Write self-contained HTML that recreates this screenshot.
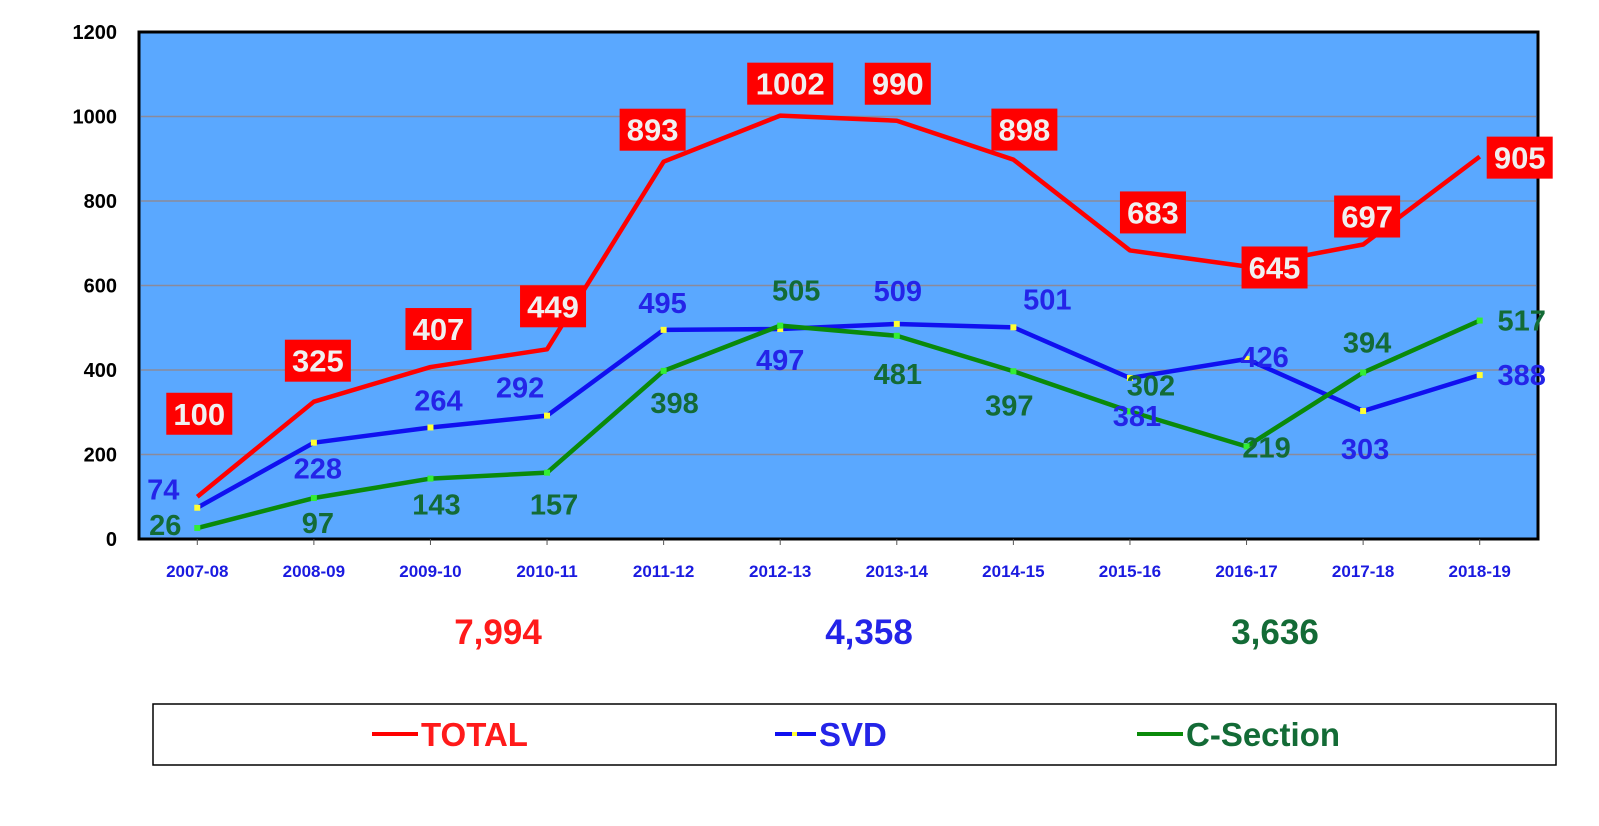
<!DOCTYPE html>
<html><head><meta charset="utf-8"><style>
html,body{margin:0;padding:0;background:#fff;}
svg{display:block;font-family:"Liberation Sans",Arial,sans-serif;font-weight:bold;}
</style></head><body>
<svg id="chart" width="1599" height="826" viewBox="0 0 1599 826">
<rect x="139" y="32" width="1399" height="507" fill="#5aa8ff" stroke="#000" stroke-width="3"/>
<g id="grid"></g><g id="axes"></g><g id="series"></g><g id="labels"></g>
<g font-size="35">
<text x="498" y="644" text-anchor="middle" fill="#ff1a1a">7,994</text>
<text x="869" y="644" text-anchor="middle" fill="#2424e8">4,358</text>
<text x="1275" y="644" text-anchor="middle" fill="#136b36">3,636</text>
</g>
<g>
<rect x="153" y="704" width="1403" height="61" fill="#fff" stroke="#000" stroke-width="1.5"/>
<g><line x1="372" y1="734" x2="418" y2="734" stroke="#ff0000" stroke-width="4"/><text x="421" y="746" font-size="33" fill="#ff1a1a">TOTAL</text></g>
<g><line x1="775" y1="734" x2="816" y2="734" stroke="#1010f0" stroke-width="4"/><rect x="792" y="732" width="5" height="4" fill="#ffff33"/><text x="819" y="746" font-size="33" fill="#2424e8">SVD</text></g>
<g><line x1="1137" y1="734" x2="1183" y2="734" stroke="#0a8a0a" stroke-width="4"/><text x="1186" y="746" font-size="33" fill="#136b36">C-Section</text></g>
</g>
</svg>
<script>
const categories=["2007-08","2008-09","2009-10","2010-11","2011-12","2012-13","2013-14","2014-15","2015-16","2016-17","2017-18","2018-19"];
const totalValues=[100,325,407,449,893,1002,990,898,683,645,697,905];
const svdValues=[74,228,264,292,495,497,509,501,381,426,303,388];
const csectionValues=[26,97,143,157,398,505,481,397,302,219,394,517];
const yTicks=[0,200,400,600,800,1000,1200];
const totalOff=[[2,-83],[4,-41],[8,-38],[6,-43],[-11,-32],[10,-32],[1,-37],[11,-30],[23,-38],[28,1],[4,-28],[40,1]];
const svdOff=[[-34,-18],[4,26],[8,-27],[-27,-28],[-1,-27],[0,31],[1,-33],[34,-28],[7,38],[18,-2],[2,38],[42,0]];
const csOff=[[-32,-3],[4,25],[6,26],[7,32],[11,32],[16,-35],[1,38],[-4,34],[21,-26],[20,1],[4,-30],[42,0]];
const NS="http://www.w3.org/2000/svg";
const L=139,R=1538,T=32,B=539,YMAX=1200;
const xs=i=>L+(R-L)/categories.length*(i+0.5);
const ys=v=>B-(B-T)*v/YMAX;
function mk(tag,attrs,parent){const e=document.createElementNS(NS,tag);for(const k in attrs)e.setAttribute(k,attrs[k]);parent.appendChild(e);return e;}
const grid=document.getElementById('grid'),axes=document.getElementById('axes'),series=document.getElementById('series'),labels=document.getElementById('labels');
yTicks.forEach(t=>{
  if(t>0&&t<YMAX){const g=mk('line',{x1:L+2,x2:R-2,y1:ys(t),y2:ys(t),stroke:'#8a8a9a','stroke-width':1.5},grid);
  
  }
  const tx=mk('text',{x:117,y:ys(t)+7,'text-anchor':'end','font-size':20,fill:'#000'},axes);
  tx.textContent=t;
  
  
});
categories.forEach((c,i)=>{
  const tk=mk('line',{x1:xs(i),x2:xs(i),y1:B,y2:B+6,stroke:'#555','stroke-width':1},axes);
  
  
  const tx=mk('text',{x:xs(i),y:577,'text-anchor':'middle','font-size':17,fill:'#1a1ae0'},axes);
  tx.textContent=c;
  
  
});
function drawSeries(vals,color,name,marker){
  const pts=vals.map((v,i)=>xs(i)+','+ys(v)).join(' ');
  const pl=mk('polyline',{points:pts,fill:'none',stroke:color,'stroke-width':4.5,'stroke-linejoin':'round'},series);
  
  
  if(marker){vals.forEach((v,i)=>{const m=mk('rect',{x:xs(i)-3,y:ys(v)-3,width:6,height:6,fill:marker},series);
    
    });}
}
drawSeries(totalValues,'#ff0000','total',null);
drawSeries(svdValues,'#1010f0','svd','#ffff33');
drawSeries(csectionValues,'#0a8a0a','csection','#33ee33');
totalValues.forEach((v,i)=>{
  const cx=xs(i)+totalOff[i][0],cy=ys(v)+totalOff[i][1];
  const w=String(v).length>3?86:66;
  const r=mk('rect',{x:cx-w/2,y:cy-21,width:w,height:42,fill:'#ff0000'},labels);
  
  
  const t=mk('text',{x:cx,y:cy+11,'text-anchor':'middle','font-size':31,fill:'#f0f0f0'},labels);
  t.textContent=v;
  
  
});
function valLabels(vals,off,color,name){vals.forEach((v,i)=>{
  const t=mk('text',{x:xs(i)+off[i][0],y:ys(v)+off[i][1]+10,'text-anchor':'middle','font-size':29,fill:color},labels);
  t.textContent=v;
  
  
});}
valLabels(svdValues,svdOff,'#2424e8','svd');
valLabels(csectionValues,csOff,'#136b36','csection');
</script>
</body></html>
